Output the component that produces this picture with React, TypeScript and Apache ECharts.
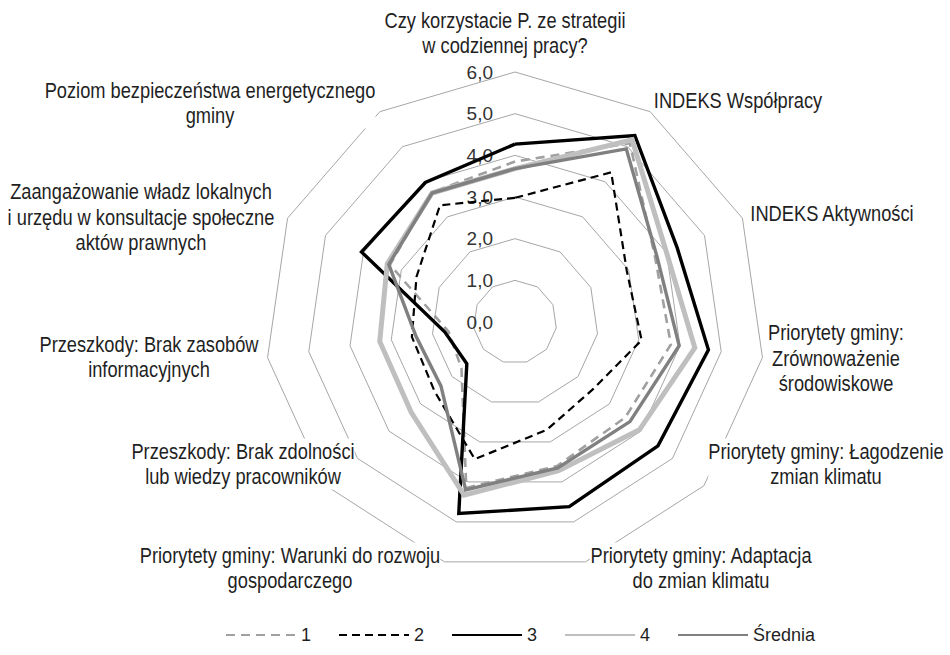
import React, { useEffect, useRef } from 'react';
import * as echarts from 'echarts';

// Indicators listed clockwise starting at the top
const INDICATORS: string[] = [
  'Czy korzystacie P. ze strategii\nw codziennej pracy?',
  'INDEKS Współpracy',
  'INDEKS Aktywności',
  'Priorytety gminy:\nZrównoważenie\nśrodowiskowe',
  'Priorytety gminy: Łagodzenie\nzmian klimatu',
  'Priorytety gminy: Adaptacja\ndo zmian klimatu',
  'Priorytety gminy: Warunki do rozwoju\ngospodarczego',
  'Przeszkody: Brak zdolności\nlub wiedzy pracowników',
  'Przeszkody: Brak zasobów\ninformacyjnych',
  'Zaangażowanie władz lokalnych\ni urzędu w konsultacje społeczne\naktów prawnych',
  'Poziom bezpieczeństwa energetycznego\ngminy',
];

const AXIS_MIN = 0;
const AXIS_MAX = 6;
const TICK_LABELS = ['0,0', '1,0', '2,0', '3,0', '4,0', '5,0', '6,0'];

const SERIES_NAMES = ['1', '2', '3', '4', 'Średnia'];

const S1 = [3.85, 5.1, 3.7, 3.78, 3.5, 3.6, 4.15, 1.7, 1.61, 3.3, 3.7];
const S2 = [2.98, 4.27, 2.95, 3.07, 2.47, 2.7, 3.43, 2.55, 2.5, 2.6, 3.33];
const S3 = [4.27, 5.32, 4.28, 4.69, 4.54, 4.62, 4.79, 1.53, 1.7, 4.05, 3.98];
const S4 = [3.68, 5.2, 4.0, 4.36, 3.95, 3.72, 4.33, 3.3, 3.28, 3.37, 3.68];
const SREDNIA = [3.68, 4.94, 3.75, 3.98, 3.65, 3.65, 4.2, 2.35, 2.4, 3.33, 3.68];

const SERIES_VALUES = [S1, S2, S3, S4, SREDNIA];

// ---- styles / layout (not data) ----
const FONT = "'Liberation Sans', Arial, sans-serif";
const TEXT_COLOR = '#1f1f1f';
const LINE_STYLES = [
  { color: '#a0a0a0', width: 2.6, type: [9, 6] as any },
  { color: '#000000', width: 2.2, type: [8, 5] as any },
  { color: '#000000', width: 3.4, type: 'solid' as any },
  { color: '#bfbfbf', width: 5, type: 'solid' as any },
  { color: '#808080', width: 3.4, type: 'solid' as any },
];
// label anchor (center x, middle y) for each indicator name
const NAME_POS: [number, number][] = [
  [505, 33], [738, 100], [832, 213], [836, 358], [826, 464], [701, 568],
  [290, 568], [243, 464], [149, 357], [141, 217], [210, 103],
];

// ECharts places radar indicators counter-clockwise: reorder keeping the first
const ccw = <T,>(arr: T[]): T[] => [arr[0], ...arr.slice(1).reverse()];

export default function App() {
  const ref = useRef<HTMLDivElement>(null);

  useEffect(() => {
    if (!ref.current) return;
    const chart = echarts.init(ref.current, undefined, { renderer: 'svg' });

    const indicatorOrder = ccw(INDICATORS);
    const indicators = indicatorOrder.map((name, i) => ({
      name,
      min: AXIS_MIN,
      max: AXIS_MAX,
      ...(i === 0 ? { axisLabel: { show: true } } : {}),
    }));

    const dummyLines = SERIES_NAMES.map((name, i) => ({
      type: 'line',
      name,
      data: [],
      symbol: 'none',
      silent: true,
      lineStyle: { ...LINE_STYLES[i] },
      itemStyle: { color: LINE_STYLES[i].color, opacity: 0 },
    }));

    const radars = SERIES_NAMES.map((name, i) => ({
      type: 'radar',
      name,
      symbol: 'none',
      silent: true,
      lineStyle: { ...LINE_STYLES[i], join: 'miter' },
      itemStyle: { color: LINE_STYLES[i].color },
      data: [{ name, value: ccw(SERIES_VALUES[i]) }],
    }));

    const graphics = INDICATORS.map((txt, i) => ({
      type: 'text',
      x: NAME_POS[i][0],
      y: NAME_POS[i][1],
      scaleX: 0.83,
      z: 100,
      silent: true,
      style: {
        text: txt,
        fill: TEXT_COLOR,
        fontSize: 22,
        fontFamily: FONT,
        align: 'center',
        verticalAlign: 'middle',
        lineHeight: 25.5,
        backgroundColor: '#ffffff',
      },
    }));

    chart.setOption({
      animation: false,
      backgroundColor: '#ffffff',
      textStyle: { fontFamily: FONT },
      grid: { show: false, left: 0, top: 0, width: 1, height: 1 },
      xAxis: { type: 'value', show: false },
      yAxis: { type: 'value', show: false },
      radar: {
        center: [515, 322],
        radius: 250,
        startAngle: 90,
        shape: 'polygon',
        splitNumber: 6,
        indicator: indicators,
        axisName: { show: false },
        axisLine: { show: false },
        axisTick: { show: false },
        splitArea: { show: false },
        splitLine: { lineStyle: { color: '#a6a6a6', width: 1 } },
        axisLabel: {
          show: false,
          fontSize: 19,
          fontFamily: FONT,
          color: '#333333',
          align: 'right',
          margin: 22,
          formatter: (v: number) => TICK_LABELS[Math.round(v)] ?? String(v),
        },
      },
      legend: {
        data: SERIES_NAMES,
        left: 220,
        top: 621,
        itemWidth: 70,
        itemHeight: 14,
        itemGap: 27,
        itemStyle: { opacity: 0 },
        textStyle: { fontSize: 18, fontFamily: FONT, color: TEXT_COLOR },
        selectedMode: false,
      },
      graphic: graphics,
      series: [...dummyLines, ...radars],
    } as any);

    return () => chart.dispose();
  }, []);

  return (
    <div
      ref={ref}
      style={{ position: 'absolute', left: 0, top: 0, width: 950, height: 655 }}
    />
  );
}
